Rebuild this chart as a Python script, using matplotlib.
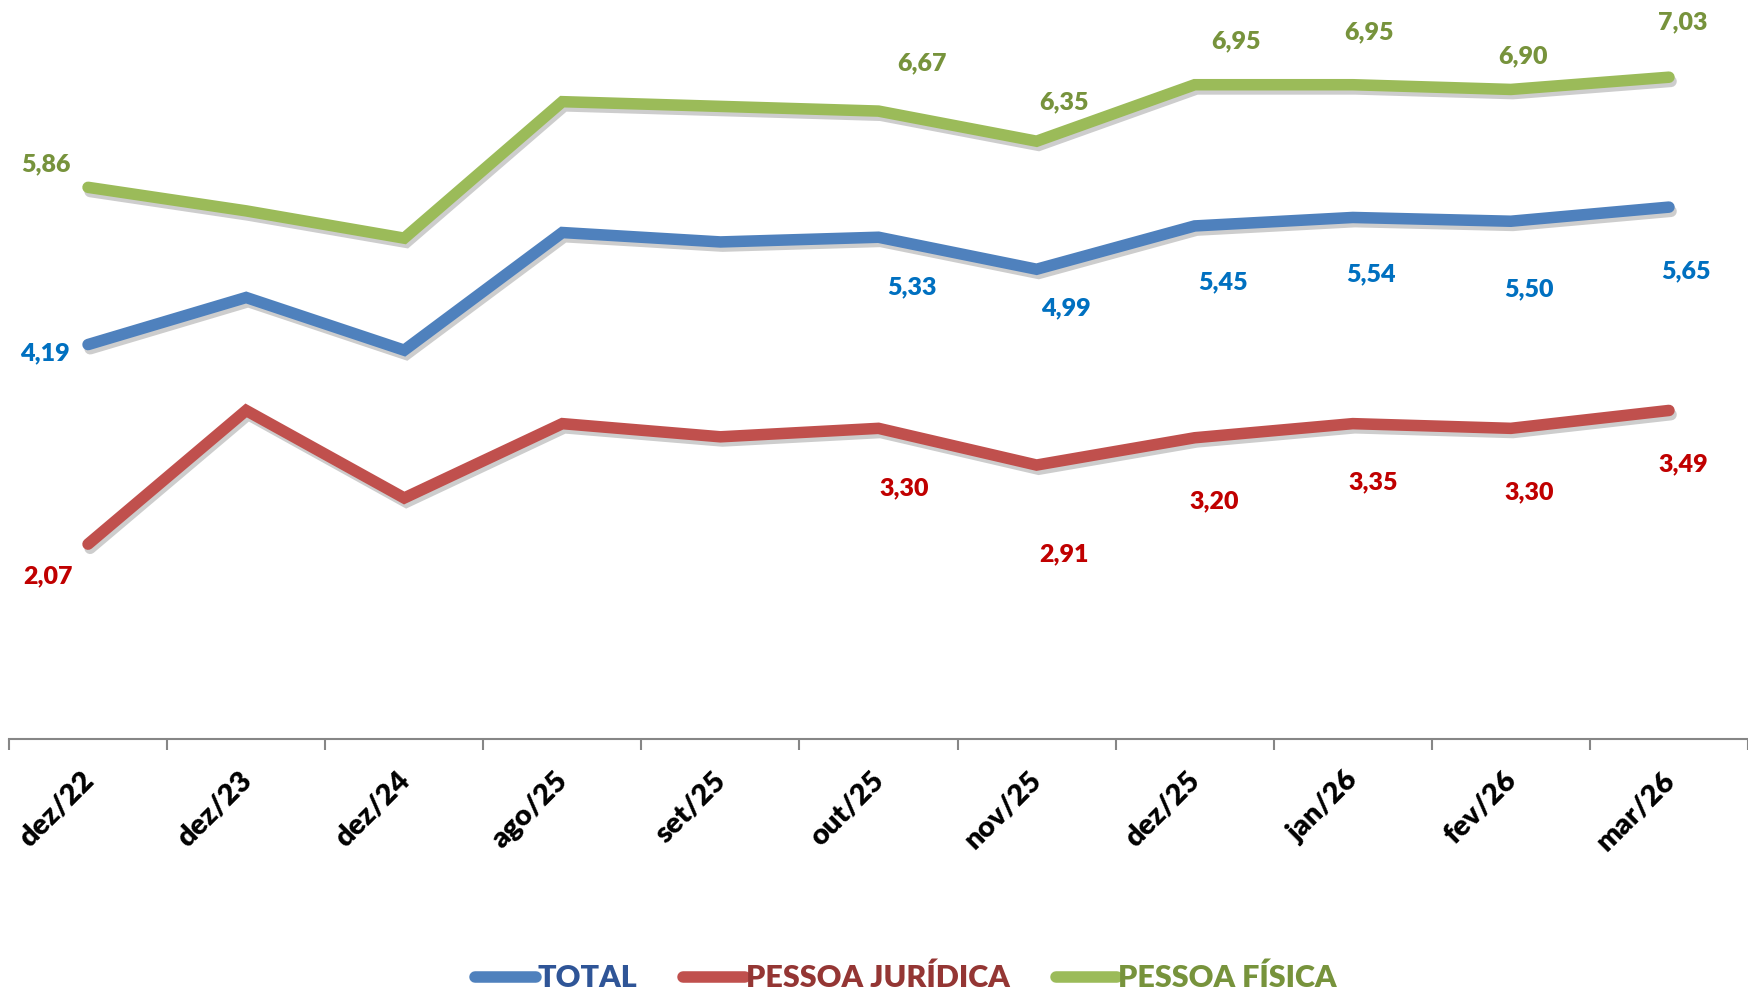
import matplotlib
matplotlib.use('Agg')
import matplotlib.pyplot as plt
import matplotlib.patheffects as pe
from matplotlib.lines import Line2D
import matplotlib.transforms as mtransforms

meses = ['dez/22', 'dez/23', 'dez/24', 'ago/25', 'set/25', 'out/25',
         'nov/25', 'dez/25', 'jan/26', 'fev/26', 'mar/26']

total = [4.19, 4.69, 4.13, 5.38, 5.28, 5.33, 4.99, 5.45, 5.54, 5.50, 5.65]
pj = [2.07, 3.49, 2.56, 3.35, 3.21, 3.30, 2.91, 3.20, 3.35, 3.30, 3.49]
pf = [5.86, 5.61, 5.32, 6.77, 6.72, 6.67, 6.35, 6.95, 6.95, 6.90, 7.03]

# quais pontos tem rotulo (indices)
rot_idx = [0, 5, 6, 7, 8, 9, 10]

# deslocamento dos rotulos em pixels (dx, dy)
off_pf = [(-42, 23), (43, 48), (27, 39), (41, 43), (16, 52), (12, 33), (14, 55)]
off_total = [(-43, -9), (33, -50), (29, -39), (28, -56), (18, -57), (18, -68), (17, -64)]
off_pj = [(-40, -32), (26, -60), (27, -89), (20, -64), (20, -59), (18, -64), (14, -54)]

FONT = 'Lato'
plt.rcParams['font.family'] = [FONT, 'DejaVu Sans']

fig = plt.figure(figsize=(17.48, 9.90), dpi=100)
ax = fig.add_axes([9 / 1748, 1 - 739 / 990, 1 - 9 / 1748, 739 / 990])

series = [
    ('TOTAL', total, '#4F81BD', '#0070C0', '#2F5597', off_total),
    ('PESSOA JURÍDICA', pj, '#C0504D', '#C00000', '#943634', off_pj),
    ('PESSOA FÍSICA', pf, '#9BBB59', '#77933C', '#77933C', off_pf),
]

x = list(range(len(meses)))
handles = []
for nome, vals, cor, cor_rot, cor_leg, offs in series:
    ax.plot(x, vals, color=cor, lw=8.3, solid_capstyle='round', solid_joinstyle='miter',
            path_effects=[pe.SimpleLineShadow(offset=(1.5, -3), shadow_color='#707070', alpha=0.35),
                          pe.Normal()], zorder=3)
    for i, (dx, dy) in zip(rot_idx, offs):
        ax.annotate(f'{vals[i]:.2f}'.replace('.', ','), (x[i], vals[i]),
                    xytext=(dx, dy), textcoords='offset pixels',
                    ha='center', va='center', fontsize=18, fontweight='heavy', color=cor_rot)
    handles.append(Line2D([0], [0], color=cor, lw=8.3, solid_capstyle='round'))

ax.set_xlim(-0.5, len(meses) - 0.5)
ax.set_ylim(0, 7.85)

for s in ['top', 'right', 'left']:
    ax.spines[s].set_visible(False)
ax.spines['bottom'].set_color('#868686')
ax.spines['bottom'].set_linewidth(1.5)
ax.set_yticks([])

ax.set_xticks(x)
ax.set_xticks([i - 0.5 for i in range(len(meses) + 1)], minor=True)
ax.tick_params(axis='x', which='major', length=0, pad=20)
ax.tick_params(axis='x', which='minor', length=8, width=1.5, color='#868686')
ax.set_xticklabels(meses, rotation=45, ha='right', va='top', rotation_mode='anchor',
                   fontsize=21, fontweight='heavy', color='black')
desloc = mtransforms.ScaledTranslation(-8 / 100, 0, fig.dpi_scale_trans)
for lbl in ax.get_xticklabels():
    lbl.set_transform(lbl.get_transform() + desloc)

leg = fig.legend(handles, [s[0] for s in series], loc='center',
                 bbox_to_anchor=(906 / 1748, 1 - 978 / 990), ncol=3, frameon=False,
                 handlelength=2.0, handletextpad=0.05, columnspacing=1.5,
                 prop={'family': FONT, 'weight': 'heavy', 'size': 22})
for txt, s in zip(leg.get_texts(), series):
    txt.set_color(s[4])

fig.savefig('out.png', dpi=100)
